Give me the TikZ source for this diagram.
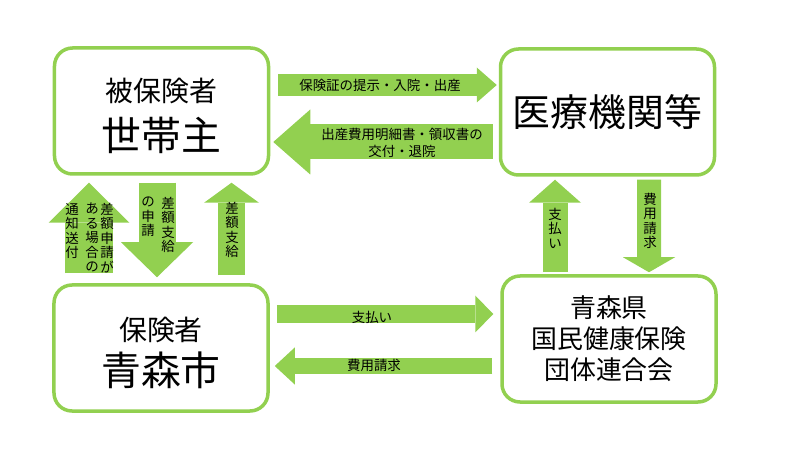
\documentclass[tikz,border=0pt]{standalone}
\usepackage{fontspec}
\setmainfont{Noto Sans CJK JP}
\usetikzlibrary{arrows.meta, positioning, calc}
\definecolor{leafgreen}{HTML}{92D050}

\begin{document}
\begin{tikzpicture}[x=1bp, y=-1bp,
  box/.style={rectangle, draw=leafgreen, line width=3.5bp, rounded corners=18bp,
    minimum width=214bp, minimum height=126bp, align=center, inner sep=0pt},
  fat/.style n args={3}{draw=leafgreen, line width=#1,
    -{Triangle[length=#2, width=#3, line width=0pt]}},
  lbl/.style={inner sep=0pt, align=center, font=\fontsize{13.5}{17}\selectfont},
  tate/.style={inner sep=0pt, anchor=north, align=center,
    font=\fontsize{13.5}{14.5}\selectfont}
]
  \useasboundingbox (0,0) rectangle (800,450);
  % the four parties
  \node[box, font=\fontsize{28}{49.5}\selectfont] (setai) at (161.5,111)
    {\rule{0pt}{33bp}被保険者\\{\fontsize{40}{40}\selectfont 世帯主}};
  \node[box, font=\fontsize{38}{40}\selectfont] (iryo) at (607.5,112) {医療機関等};
  \node[box, font=\fontsize{28}{45}\selectfont] (hoken) at (161,348)
    {\rule{0pt}{33bp}保険者\\{\fontsize{40}{40}\selectfont 青森市}};
  \node[box, font=\fontsize{26}{31}\selectfont] (kokuho) at (609,339)
    {青森県\\国民健康保険\\団体連合会};

  % top row
  \draw[fat={22bp}{20bp}{35bp}] ($(setai.east)+(8,-26)$) -- ($(iryo.west)+(-2,-27)$);
  \draw[fat={35bp}{37bp}{65bp}] ($(iryo.west)+(-6,30)$) -- ($(setai.east)+(3,31)$);
  \node[lbl] (lshow) at (380,85) {保険証の提示・入院・出産};
  \node[lbl] (lmeisai) at (402,143) {出産費用明細書・領収書の\\交付・退院};

  % left column
  \draw[fat={48bp}{40bp}{81bp}] ($(hoken.north)+(-72,-10)$) -- ($(setai.south)+(-72.5,7)$);
  \draw[fat={37bp}{35bp}{72bp}] ($(setai.south)+(-4.5,7)$) -- ($(hoken.north)+(-4,-6)$);
  \draw[fat={27bp}{20bp}{55bp}] ($(hoken.north)+(70.5,-8)$) -- ($(setai.south)+(70,7)$);
  \node[tate] (tsagaku) at (107,203) {差\\額\\申\\請\\が};
  \node[tate] (taru) at (92,203) {あ\\る\\場\\合\\の};
  \node[tate] (ttsuchi) at (72,203) {通\\知\\送\\付};
  \node[tate] (tshinsei) at (148,197) {の\\申\\請};
  \node[tate] (tshikyu) at (168,197) {差\\額\\支\\給};
  \node[tate] (tshikyub) at (232,202) {差\\額\\支\\給};

  % right column
  \draw[fat={25bp}{23bp}{52bp}] ($(kokuho.north)+(-54,-2)$) -- ($(iryo.south)+(-52.5,3)$);
  \draw[fat={24bp}{15bp}{52bp}] ($(iryo.south)+(41.5,3)$) -- ($(kokuho.north)+(40,-2)$);
  \node[tate] (tpay) at (555,208) {支\\払\\い};
  \node[tate] (tbill) at (650,193) {費\\用\\請\\求};

  % bottom row
  \draw[fat={18bp}{18bp}{37bp}] ($(hoken.east)+(7,-34)$) -- ($(kokuho.west)+(-7,-25)$);
  \draw[fat={15bp}{20bp}{37bp}] ($(kokuho.west)+(-8,27)$) -- ($(hoken.east)+(5,18)$);
  \node[lbl] (lpay) at (372,317) {支払い};
  \node[lbl] (lbill) at (374,365) {費用請求};
\end{tikzpicture}
\end{document}
